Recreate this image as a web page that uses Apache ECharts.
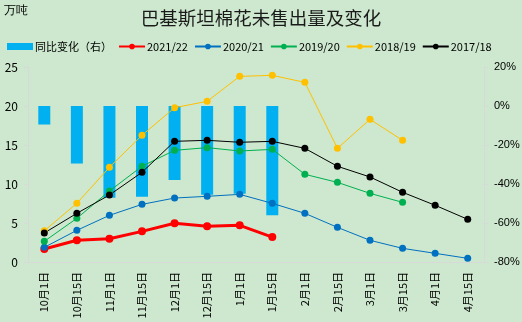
<!DOCTYPE html>
<html><head><meta charset="utf-8">
<script src="https://cdn.jsdelivr.net/npm/echarts@6/dist/echarts.min.js"></script>
<style>html,body{margin:0;padding:0;background:#CDE8CE;}#c{width:522px;height:322px;}</style>
</head><body><div id="c"></div>
<script>
const categories = ['10月1日','10月15日','11月1日','11月15日','12月1日','12月15日','1月1日','1月15日','2月1日','2月15日','3月1日','3月15日','4月1日','4月15日'];
const yoyChange = [-9.5, -29.5, -47, -46.5, -38, -45.5, -45, -56, null, null, null, null, null, null];
const s2021_22 = [1.67, 2.78, 2.99, 3.93, 4.96, 4.57, 4.70, 3.2, null, null, null, null, null, null];
const s2020_21 = [1.88, 4.06, 5.98, 7.39, 8.2, 8.42, 8.67, 7.52, 6.24, 4.44, 2.78, 1.75, 1.11, 0.47];
const s2019_20 = [2.65, 5.6, 9.1, 12.27, 14.32, 14.66, 14.23, 14.44, 11.24, 10.21, 8.8, 7.65, null, null];
const s2018_19 = [4.0, 7.52, 12.14, 16.24, 19.78, 20.6, 23.8, 23.93, 23.03, 14.57, 18.29, 15.6, null, null];
const s2017_18 = [3.72, 6.24, 8.59, 11.5, 15.47, 15.6, 15.35, 15.47, 14.57, 12.27, 10.9, 8.94, 7.27, 5.47];
const leftTicks = {min: 0, max: 25, interval: 5};
const rightTicks = {min: -80, max: 20, interval: 20};

const chart = echarts.init(document.getElementById('c'), null, {renderer: 'canvas'});
const font = '"Noto Sans CJK SC", sans-serif';
function lineSeries(name, data, color, width, size) {
  return {name, type: 'line', yAxisIndex: 0, data, symbol: 'circle', symbolSize: size,
    lineStyle: {color, width}, itemStyle: {color}, z: 3, connectNulls: false, animation: false};
}
chart.setOption({
  backgroundColor: '#CDE8CE',
  animation: false,
  textStyle: {fontFamily: font},
  title: {text: '巴基斯坦棉花未售出量及变化', left: 'center', top: 4,
    textStyle: {fontSize: 18.5, fontWeight: 'normal', color: '#1a1a1a', fontFamily: font}},
  graphic: [{type: 'text', left: 4, top: 5, style: {text: '万吨', fontSize: 12, fill: '#000', font: '12px ' + font}}],
  legend: {top: 41, left: 7, width: 515, padding: 0, itemGap: 6, itemHeight: 7, itemWidth: 26,
    textStyle: {fontSize: 11, color: '#000', padding: [0, 0, 0, -3]},
    data: [{name: '同比变化（右）', icon: 'rect', itemStyle: {color: '#00B0F0'}},
      '2021/22', '2020/21', '2019/20', '2018/19', '2017/18']},
  grid: {left: 28, right: 38, top: 67, bottom: 60, outerBoundsMode: 'none', containLabel: false},
  xAxis: {type: 'category', data: categories, boundaryGap: true,
    axisLine: {lineStyle: {color: '#D9D9D9'}}, axisTick: {show: false},
    axisLabel: {rotate: 90, fontSize: 11, color: '#000', margin: 10, interval: 0}},
  yAxis: [
    {type: 'value', min: leftTicks.min, max: leftTicks.max, interval: leftTicks.interval,
      splitLine: {show: false}, axisLine: {show: true, lineStyle: {color: '#D9D9D9'}},
      axisTick: {show: true, length: 4, lineStyle: {color: '#D9D9D9'}},
      axisLabel: {fontSize: 12, color: '#000', margin: 10}},
    {type: 'value', min: rightTicks.min, max: rightTicks.max, interval: rightTicks.interval,
      splitLine: {show: false}, axisLine: {show: true, lineStyle: {color: '#D9D9D9'}},
      axisTick: {show: true, length: 4, lineStyle: {color: '#D9D9D9'}},
      axisLabel: {fontSize: 11, color: '#000', margin: 10, fontFamily: 'Liberation Sans Narrow, Liberation Sans, sans-serif', formatter: v => v + '%'}}
  ],
  series: [
    {name: '同比变化（右）', type: 'bar', yAxisIndex: 1, data: yoyChange, barWidth: 12,
      itemStyle: {color: '#00B0F0'}, z: 1},
    lineSeries('2021/22', s2021_22, '#FF0000', 3, 8),
    lineSeries('2020/21', s2020_21, '#0070C0', 1, 7),
    lineSeries('2019/20', s2019_20, '#00B050', 1, 7),
    lineSeries('2018/19', s2018_19, '#FFC000', 1, 7),
    lineSeries('2017/18', s2017_18, '#000000', 1, 7)
  ]
});
</script></body></html>
